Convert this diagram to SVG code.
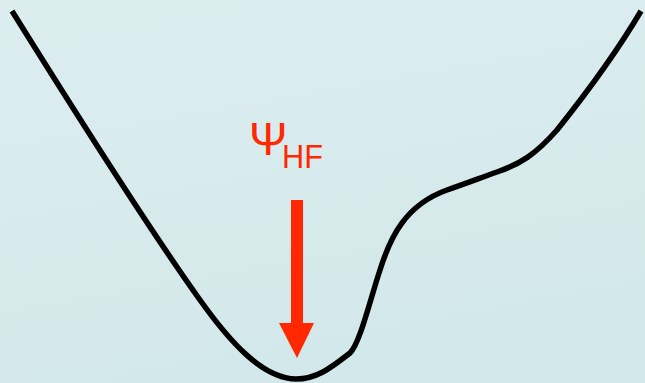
<svg xmlns="http://www.w3.org/2000/svg" width="645" height="383" viewBox="0 0 645 383">
  <defs>
    <linearGradient id="bg" x1="0" y1="0" x2="0.3" y2="1">
      <stop offset="0" stop-color="#dcedf0"/>
      <stop offset="1" stop-color="#d3e8ea"/>
    </linearGradient>
  </defs>
  <style>
    .curve { fill: none; stroke: #000; stroke-width: 5.5; stroke-linejoin: round; }
    .marker { fill: #ff2800; }
    .label { fill: #ff2800; font-family: "Liberation Sans", "DejaVu Sans", sans-serif; }
  </style>
  <rect width="645" height="383" fill="url(#bg)"/>

  <!-- potential energy surface -->
  <g id="surface">
    <path class="curve" d="M12,11 C60,88 150,230 200,300 C230,342 262,378 296,379 C318,379 333,366 350,353 C360,343 370,300 380,270 C390,238 405,205 447,190 C465,184 480,178 497,172 C520,164 535,155 557,130 C585,95 615,55 641,11"/>
  </g>

  <!-- Hartree-Fock minimum marker -->
  <g id="hf-label">
    <text class="label" x="249" y="155" font-size="46">Ψ</text>
    <text class="label" x="282" y="168" font-size="33" textLength="41" lengthAdjust="spacingAndGlyphs">HF</text>
  </g>
  <g id="hf-arrow">
    <rect class="marker" x="291" y="200" width="12" height="124"/>
    <polygon class="marker" points="279,323 314,323 297,358"/>
  </g>
</svg>
